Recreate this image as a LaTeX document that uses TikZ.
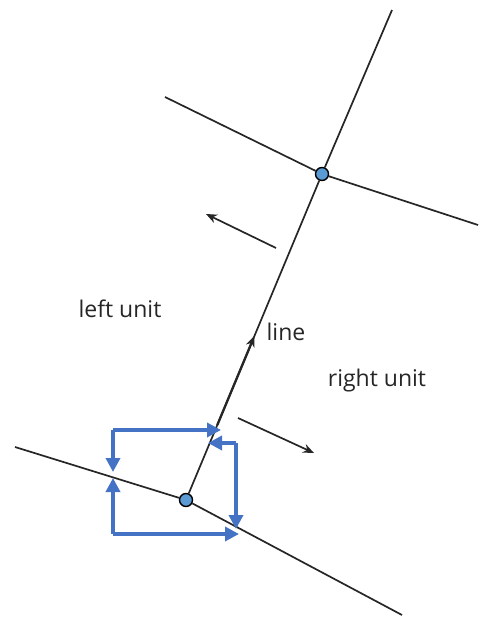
\documentclass[tikz,border=0pt]{standalone}
\usepackage{fontspec}
\setmainfont{Open Sans}
\usetikzlibrary{arrows.meta}
\definecolor{bluearr}{HTML}{4472C4}
\definecolor{nodefill}{HTML}{5B9BD5}
\begin{document}
\begin{tikzpicture}[x=1pt,y=-1pt,
  edge/.style={line width=1.7pt, black!85},
  dirarrow/.style={line width=1.7pt, black!85, -{Stealth[length=11pt,width=9pt]}},
  bluearrow/.style={line width=4.2pt, bluearr, -{Triangle[length=14pt,width=14pt]}},
  junction/.style={circle, draw=black, fill=nodefill, line width=1.4pt, minimum size=13pt, inner sep=0pt},
  lbl/.style={font=\fontsize{23}{27}\selectfont, text=black!85, inner sep=0pt}]
\useasboundingbox (0,0) rectangle (480,617);
% nodes
\node[junction] (top) at (322,174) {};
\node[junction] (bot) at (186,500) {};
\coordinate (topend) at (392,10);
\coordinate (tl) at (165,97);
\coordinate (tr) at (478,225);
\coordinate (bl) at (15,447);
\coordinate (br) at (402,615);
% lines
\draw[edge] (bot) -- (top);
\draw[edge] (top) -- (topend);
\draw[edge] (tl) -- (top);
\draw[edge] (top) -- (tr);
\draw[edge] (bl) -- (bot);
\draw[edge] (bot) -- (br);
% line direction arrow
\coordinate (la) at (217.3,425);
\coordinate (lb) at (254.4,336);
\draw[dirarrow, line width=2.3pt] (la) -- (lb);
% unit arrows
\coordinate (a1s) at (276,248);
\coordinate (a1e) at (206,214);
\draw[dirarrow] (a1s) -- (a1e);
\coordinate (a2s) at (238,418);
\coordinate (a2e) at (314,453);
\draw[dirarrow] (a2s) -- (a2e);
% blue arrows
\coordinate (c1) at (113,430);
\coordinate (c1r) at (221,430);
\coordinate (c1d) at (113,472);
\coordinate (c2) at (113,534);
\coordinate (c2u) at (113,478);
\coordinate (c2r) at (239,534);
\coordinate (c3) at (236,443);
\coordinate (c3l) at (208,443);
\coordinate (c3d) at (236,529);
\draw[bluearrow] (c1) -- (c1r);
\draw[bluearrow] (c1) -- (c1d);
\draw[bluearrow] (c2) -- (c2u);
\draw[bluearrow] (c2) -- (c2r);
\draw[bluearrow] (c3) -- (c3l);
\draw[bluearrow] (c3) -- (c3d);
% labels
\node[lbl] (left) at (120,309) {left unit};
\node[lbl] (lineL) at (286,332) {line};
\node[lbl] (right) at (377,381) {right unit};
\end{tikzpicture}
\end{document}
